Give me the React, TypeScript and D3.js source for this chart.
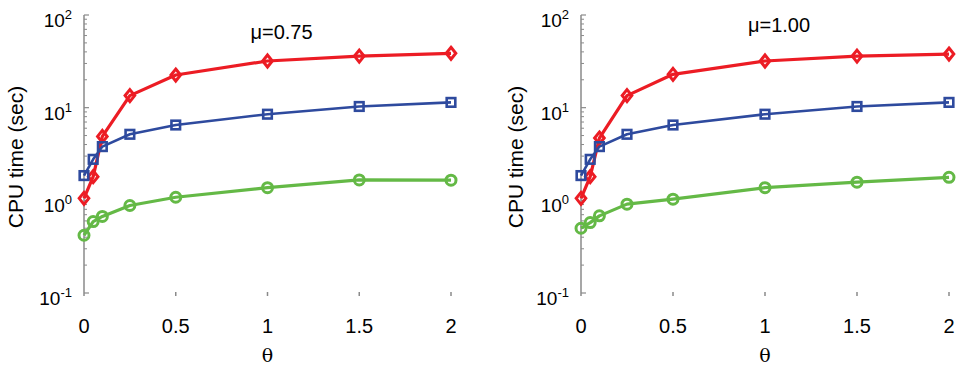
import React from 'react';
import * as d3 from 'd3';

// theta values along the x axis
const theta = [0, 0.05, 0.1, 0.25, 0.5, 1, 1.5, 2];
const xTicks = [0, 0.5, 1, 1.5, 2];
const yDecades = [-1, 0, 1, 2];

// mu = 0.75
const red075 = [1.05, 1.8, 4.9, 13.5, 22.5, 31.9, 36, 38.6];
const blue075 = [1.85, 2.77, 3.8, 5.16, 6.5, 8.5, 10.3, 11.4];
const green075 = [0.42, 0.59, 0.67, 0.88, 1.08, 1.37, 1.66, 1.65];

// mu = 1.00
const red100 = [1.05, 1.8, 4.7, 13.5, 22.9, 31.9, 36, 37.9];
const blue100 = [1.85, 2.77, 3.8, 5.16, 6.5, 8.5, 10.3, 11.4];
const green100 = [0.5, 0.575, 0.68, 0.91, 1.03, 1.37, 1.57, 1.77];

const RED = '#ec1c24';
const BLUE = '#2e4a9e';
const GREEN = '#64b946';
const AXIS = '#8a8a8a';
const FONT = '"Liberation Sans", Arial, Helvetica, sans-serif';

function Marker({ kind, x, y, color }) {
  if (kind === 'diamond') {
    const p = `M${x},${y - 6}L${x + 4.8},${y}L${x},${y + 6}L${x - 4.8},${y}Z`;
    return <path d={p} fill="none" stroke={color} strokeWidth={3} />;
  }
  if (kind === 'square') {
    return <rect x={x - 4.3} y={y - 4.3} width={8.6} height={8.6} fill="none" stroke={color} strokeWidth={2.6} />;
  }
  return <circle cx={x} cy={y} r={5} fill="none" stroke={color} strokeWidth={3} />;
}

function Panel({ x0, x1, title, titleY, labelX, red, blue, green }) {
  const top = 15;
  const bottom = 293;
  const x = d3.scaleLinear().domain([0, 2]).range([x0, x1]);
  const y = d3.scaleLog().domain([0.1, 100]).range([bottom, top]);
  const line = d3
    .line<number>()
    .x((d, i) => x(theta[i]))
    .y((d) => y(d));

  const minor: number[] = [];
  for (let e = -1; e < 2; e++) {
    for (let k = 2; k <= 9; k++) minor.push(k * Math.pow(10, e));
  }

  const series = [
    { vals: red, color: RED, width: 3.2, kind: 'diamond' },
    { vals: blue, color: BLUE, width: 2.6, kind: 'square' },
    { vals: green, color: GREEN, width: 3.2, kind: 'circle' },
  ];

  return (
    <g>
      {/* y axis */}
      <line x1={x0} x2={x0} y1={top} y2={bottom + 3} stroke={AXIS} strokeWidth={1.5} />
      {minor.map((v) => (
        <line key={v} x1={x0} x2={x0 + 3} y1={y(v)} y2={y(v)} stroke={AXIS} strokeWidth={1} />
      ))}
      {yDecades.map((e) => (
        <g key={e}>
          <line x1={x0} x2={x0 + 5} y1={y(Math.pow(10, e))} y2={y(Math.pow(10, e))} stroke={AXIS} strokeWidth={1.2} />
          <text x={x0 - 12} y={y(Math.pow(10, e)) + 12} textAnchor="end" fontFamily={FONT} fontSize={19}>
            10
            <tspan fontSize={13} dy={-8}>{e}</tspan>
          </text>
        </g>
      ))}
      {/* x ticks */}
      {xTicks.map((t) => (
        <g key={t}>
          {t > 0 && (
            <line x1={x(t)} x2={x(t)} y1={bottom - 1} y2={bottom + 3} stroke={AXIS} strokeWidth={1.5} />
          )}
          <text x={x(t)} y={333} textAnchor="middle" fontFamily={FONT} fontSize={20}>
            {t}
          </text>
        </g>
      ))}
      <text x={x(1)} y={362} textAnchor="middle" fontFamily='"DejaVu Serif", "Liberation Serif", serif' fontSize={19}>
        θ
      </text>
      <text
        transform={`translate(${labelX},157) rotate(-90)`}
        textAnchor="middle"
        fontFamily={FONT}
        fontSize={21}
      >
        CPU time (sec)
      </text>
      <text x={x(1) + 14} y={titleY} textAnchor="middle" fontFamily={FONT} fontSize={20}>
        μ={title}
      </text>
      {/* series */}
      {series.map((s) => (
        <g key={s.color}>
          <path d={line(s.vals) || ''} fill="none" stroke={s.color} strokeWidth={s.width} strokeLinejoin="round" />
          {s.vals.map((v, i) => (
            <Marker key={i} kind={s.kind} x={x(theta[i])} y={y(v)} color={s.color} />
          ))}
        </g>
      ))}
    </g>
  );
}

export default function App() {
  return (
    <svg
      width={959}
      height={367}
      style={{ position: 'absolute', left: 0, top: 0, background: '#fff' }}
    >
      <Panel x0={84} x1={451} title="0.75" titleY={39} labelX={23} red={red075} blue={blue075} green={green075} />
      <Panel x0={581} x1={949} title="1.00" titleY={32} labelX={523} red={red100} blue={blue100} green={green100} />
    </svg>
  );
}
